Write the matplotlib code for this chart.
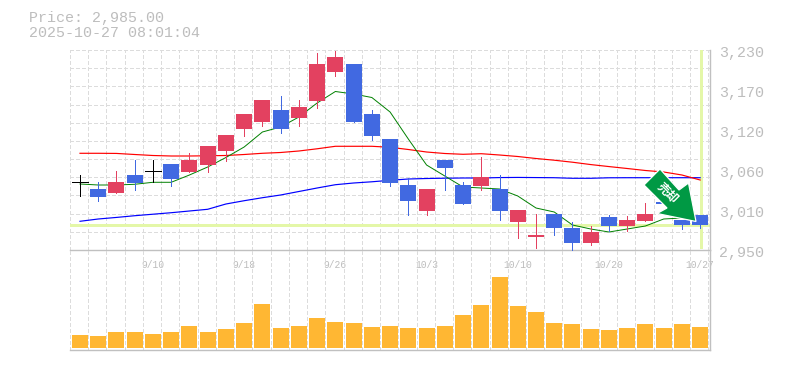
import numpy as np
import matplotlib
matplotlib.use("Agg")
import matplotlib.pyplot as plt
from matplotlib.patches import Polygon
from matplotlib.transforms import ScaledTranslation

W, H = 785, 370
title_price = "Price: 2,985.00"
title_time = "2025-10-27 08:01:04"

opens = [3045,3035,3030,3055,3060,3070,3059,3069,3089,3119,3129,3146,3135,3159,3199,3210,3140,3105,3041,3005,3076,3041,3040,3035,2989,2968,3000,2981,2960,2996,2984,2991,3017,2992,2999]
highs = [3055,3045,3061,3076,3076,3070,3086,3096,3111,3140,3160,3166,3160,3226,3229,3210,3146,3105,3051,3035,3076,3045,3080,3055,3006,3000,3000,2989,2984,2999,2998,3016,3017,2992,2999]
lows = [3025,3019,3030,3034,3045,3040,3059,3059,3075,3110,3124,3114,3124,3149,3194,3129,3104,3040,2999,2999,3034,3014,3034,2992,2967,2953,2971,2950,2957,2977,2977,2991,3014,2979,2981]
closes = [3045,3024,3045,3044,3060,3049,3076,3096,3111,3140,3160,3119,3150,3210,3220,3129,3110,3044,3019,3035,3065,3014,3052,3005,3006,2971,2981,2960,2975,2984,2992,3000,3014,2985,2985]
ma_short = [3042.4,3041,3041,3042,3044.8,3044.8,3055,3066.2,3079.5,3094.2,3115.2,3122.2,3136.2,3155.8,3171.9,3168.4,3163.5,3143.2,3105.4,3069,3053.6,3038.2,3036.8,3035.4,3025.6,3008.8,3003.2,2985,2979.4,2975.2,2979.4,2983.6,2993.4,2994.8,2993.4]
ma_mid = [3085.4,3085.4,3085.2,3083.7,3082.3,3081.6,3081.6,3081.9,3082.3,3083.7,3085.4,3086.5,3088.6,3091.7,3095.2,3095.2,3095.2,3093.8,3090.7,3087.2,3085.1,3084,3084.8,3083,3080.9,3078.1,3075.7,3072.9,3069.6,3066.8,3064.1,3061.3,3059.2,3055,3048]
ma_long = [2990.2,2993.4,2995.6,2998,3000.1,3002.2,3004.6,3007,3014.4,3019,3023.2,3027,3031.9,3036.8,3041.4,3043.8,3045.5,3047.6,3049.4,3050.1,3050.5,3050.8,3050.8,3051.4,3051.6,3051.4,3051.2,3050.4,3050.4,3051.1,3051.2,3051.2,3051.2,3051.2,3051.2]
volumes = [13,12,16,16,14,16,22,16,19,25,44,20,22,30,26,25,21,22,20,20,22,33,43,71,42,36,25,24,19,18,20,24,20,24,21]
current_price = 2985
ytick_vals = [2950,3006,3062,3118,3174,3230]
ytick_labels = ["2,950","3,010","3,060","3,120","3,170","3,230"]
xtick_idx = [4,9,14,19,24,29,34]
xtick_labels = ["9/10","9/18","9/26","10/3","10/10","10/20","10/27"]
signal_text = "売却"

C_UP, C_DOWN, C_VOL = "#e34160", "#4169e1", "#ffb733"
C_TXT, C_GRID, C_AX, C_PRICE = "#bdbdbd", "#dcdcdc", "#c0c0c0", "#e4f7a8"
MONO = ["Liberation Mono", "DejaVu Sans Mono"]

fig = plt.figure(figsize=(W/100, H/100), dpi=100, facecolor="white")
def box(x0, y0, x1, y1):
    return [x0/W, 1-y1/H, (x1-x0)/W, (y1-y0)/H]

ax = fig.add_axes(box(70, 50, 710, 250))
av = fig.add_axes(box(70, 250, 710, 350), sharex=ax)
for a in (ax, av):
    a.patch.set_alpha(0)
    for s in a.spines.values():
        s.set_visible(False)
    for side in ("right", "bottom"):
        a.spines[side].set_visible(True)
        a.spines[side].set_color(C_AX)
        a.spines[side].set_linewidth(1.0)

n = len(closes)
xs = np.arange(n)
step = 18.24
xl = (-10/step, -10/step + 640/step)
ax.set_xlim(*xl)
ax.set_ylim(2950, 3230)
av.set_ylim(-2, 98)

grid_x = np.arange(n+1) - 10/step
grid_y = 2950 + np.arange(1, 12)*280/11
dash = (0, (4, 2.7))
for a in (ax, av):
    a.vlines(grid_x, *a.get_ylim(), color=C_GRID, lw=0.7, linestyles=[dash], zorder=1, antialiased=False)
ax.hlines(grid_y, *xl, color=C_GRID, lw=0.7, linestyles=[dash], zorder=1, antialiased=False)

ax.axhline(current_price, color=C_PRICE, lw=2.16, zorder=2, antialiased=False)
ax.vlines(xs[-1]+0.03, 2953, 3230, color=C_PRICE, lw=2.16, zorder=2, antialiased=False)

ax.plot(xs, ma_long, color="#0000ff", lw=0.85, zorder=3)
ax.plot(xs, ma_mid, color="#ff0000", lw=0.85, zorder=3)
ax.plot(xs, ma_short, color="#008000", lw=0.7, zorder=3)

bw = 16/step
for i, (o, h, l, c) in enumerate(zip(opens, highs, lows, closes)):
    col = "black" if o == c else (C_UP if c > o else C_DOWN)
    ax.vlines(i, l, h, color=col, lw=0.7, zorder=4, clip_on=False, antialiased=False)
    if o == c:
        ax.hlines(o, i-bw/2, i+bw/2, color=col, lw=0.7, zorder=4, antialiased=False)
    else:
        ax.bar(i, abs(c-o), bottom=min(o, c), width=bw, color=col, lw=0, zorder=5)

av.bar(xs, volumes, width=bw, color=C_VOL, lw=0, zorder=3)

ax.set_yticks(ytick_vals, ytick_labels, family=MONO, fontsize=10.8, color=C_TXT)
ax.yaxis.tick_right()
ax.tick_params(axis="y", length=0, pad=6.8)
off = ScaledTranslation(0, -2/100, fig.dpi_scale_trans)
for lab in ax.get_yticklabels():
    lab.set_transform(lab.get_transform() + off)
ax.set_xticks(xs[xtick_idx], xtick_labels, family=MONO, fontsize=6.9, color=C_TXT)
ax.tick_params(axis="x", length=0, pad=7.5, labelbottom=True)
av.tick_params(axis="both", length=0, labelbottom=False, labelleft=False)
av.set_yticks([])

fig.text(29/W, 1-18/H, title_price, family=MONO, fontsize=10.8, color=C_TXT, va="center")
fig.text(29/W, 1-33/H, title_time, family=MONO, fontsize=10.8, color=C_TXT, va="center")

arrow_px = [(660,169),(679,190),(688.5,183),(696,221.5),(657,213.5),(667,208),(644,185)]
arrow = Polygon([(x/W, 1-y/H) for x, y in arrow_px], closed=True, transform=fig.transFigure,
                facecolor="#009944", edgecolor="white", lw=0.9, zorder=10, joinstyle="miter")
fig.add_artist(arrow)
fig.text(667/W, 1-193.5/H, signal_text, family=["Noto Sans CJK JP", "DejaVu Sans"], fontweight="bold",
         fontsize=8.6, color="white", rotation=-45, ha="center", va="center", rotation_mode="anchor", zorder=11)

fig.savefig("out.png", dpi=100)
